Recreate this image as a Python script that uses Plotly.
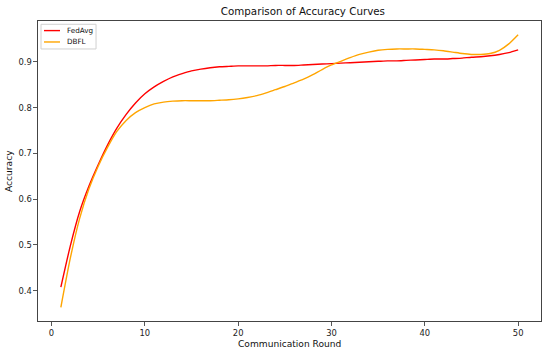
import plotly.graph_objects as go

rounds = list(range(1, 51))
fedavg = [0.408, 0.497, 0.572, 0.628, 0.675, 0.718, 0.755, 0.785, 0.810, 0.830,
          0.845, 0.857, 0.867, 0.874, 0.880, 0.884, 0.887, 0.889, 0.890, 0.891,
          0.891, 0.891, 0.891, 0.892, 0.892, 0.892, 0.893, 0.894, 0.895, 0.896,
          0.897, 0.898, 0.899, 0.900, 0.901, 0.902, 0.902, 0.903, 0.904, 0.905,
          0.906, 0.906, 0.907, 0.908, 0.910, 0.911, 0.913, 0.916, 0.920, 0.926]
dbfl = [0.364, 0.470, 0.557, 0.622, 0.672, 0.713, 0.748, 0.772, 0.789, 0.800,
        0.808, 0.812, 0.814, 0.815, 0.815, 0.815, 0.815, 0.816, 0.817, 0.819,
        0.822, 0.826, 0.832, 0.839, 0.846, 0.854, 0.862, 0.872, 0.883, 0.893,
        0.901, 0.909, 0.916, 0.921, 0.925, 0.927, 0.928, 0.928, 0.928, 0.927,
        0.926, 0.924, 0.921, 0.918, 0.916, 0.916, 0.918, 0.925, 0.939, 0.959]

series_names = ["FedAvg", "DBFL"]
series_colors = ["#FF0000", "#FFA500"]
x_ticks = [0, 10, 20, 30, 40, 50]
y_ticks = [0.4, 0.5, 0.6, 0.7, 0.8, 0.9]

W, H = 550, 355
L, R, T, B = 38.3, 9, 20.7, 34
PW, PH = W - L - R, H - T - B

def fx(px):
    return (px - L) / PW

def fy(py):
    return 1 - (py - T) / PH

fig = go.Figure()
for name, ys, col in zip(series_names, [fedavg, dbfl], series_colors):
    fig.add_trace(go.Scatter(x=rounds, y=ys, mode="lines", name=name,
                             line=dict(color=col, width=1.4, shape="spline", smoothing=0.6),
                             showlegend=False))

axis_common = dict(showline=True, mirror=True, linecolor="#444444", linewidth=1.1,
                   ticks="outside", ticklen=3.5, tickwidth=0.9, tickcolor="#444444",
                   showgrid=False, zeroline=False, automargin=False,
                   tickfont=dict(family="DejaVu Sans", size=8.4, color="#222222"))

fig.update_layout(
    width=W, height=H,
    margin=dict(l=L, r=R, t=T, b=B),
    paper_bgcolor="white", plot_bgcolor="white",
    hovermode=False,
    title=dict(text="Comparison of Accuracy Curves", x=(L + PW / 2) / W, xanchor="center",
               xref="paper", y=1 - 11 / H, yanchor="middle", yref="container",
               font=dict(family="DejaVu Sans", size=10.3, color="#111111")),
    xaxis=dict(range=[-1.45, 52.45], tickvals=x_ticks, **axis_common),
    yaxis=dict(range=[0.334, 0.989], tickvals=y_ticks, tickformat=".1f", **axis_common),
    showlegend=False,
)

# axis titles
fig.add_annotation(text="Communication Round", xref="paper", yref="paper",
                   x=0.5, y=fy(344), xanchor="center", yanchor="middle", showarrow=False,
                   font=dict(family="DejaVu Sans", size=9.1, color="#111111"))
fig.add_annotation(text="Accuracy", xref="paper", yref="paper", textangle=-90,
                   x=fx(9.3), y=0.5, xanchor="center", yanchor="middle", showarrow=False,
                   font=dict(family="DejaVu Sans", size=9.1, color="#111111"))

# legend box (matplotlib-style)
fig.add_shape(type="rect", xref="paper", yref="paper",
              x0=fx(41.3), x1=fx(96.3), y0=fy(48.7), y1=fy(24),
              line=dict(color="#d0d0d0", width=1), fillcolor="rgba(255,255,255,0.8)")
for i, (name, col) in enumerate(zip(series_names, series_colors)):
    ly = 30.3 + i * 11.4
    fig.add_shape(type="line", xref="paper", yref="paper",
                  x0=fx(44.3), x1=fx(60.3), y0=fy(ly), y1=fy(ly),
                  line=dict(color=col, width=1.4))
    fig.add_annotation(text=name, xref="paper", yref="paper", x=fx(65.5), y=fy(ly),
                       xanchor="left", yanchor="middle", showarrow=False,
                       font=dict(family="DejaVu Sans", size=7.2, color="#111111"))

fig.write_html("out.html", config={"displayModeBar": False, "staticPlot": True},
               post_script="document.body.style.margin='0px';document.body.style.overflow='hidden';")
